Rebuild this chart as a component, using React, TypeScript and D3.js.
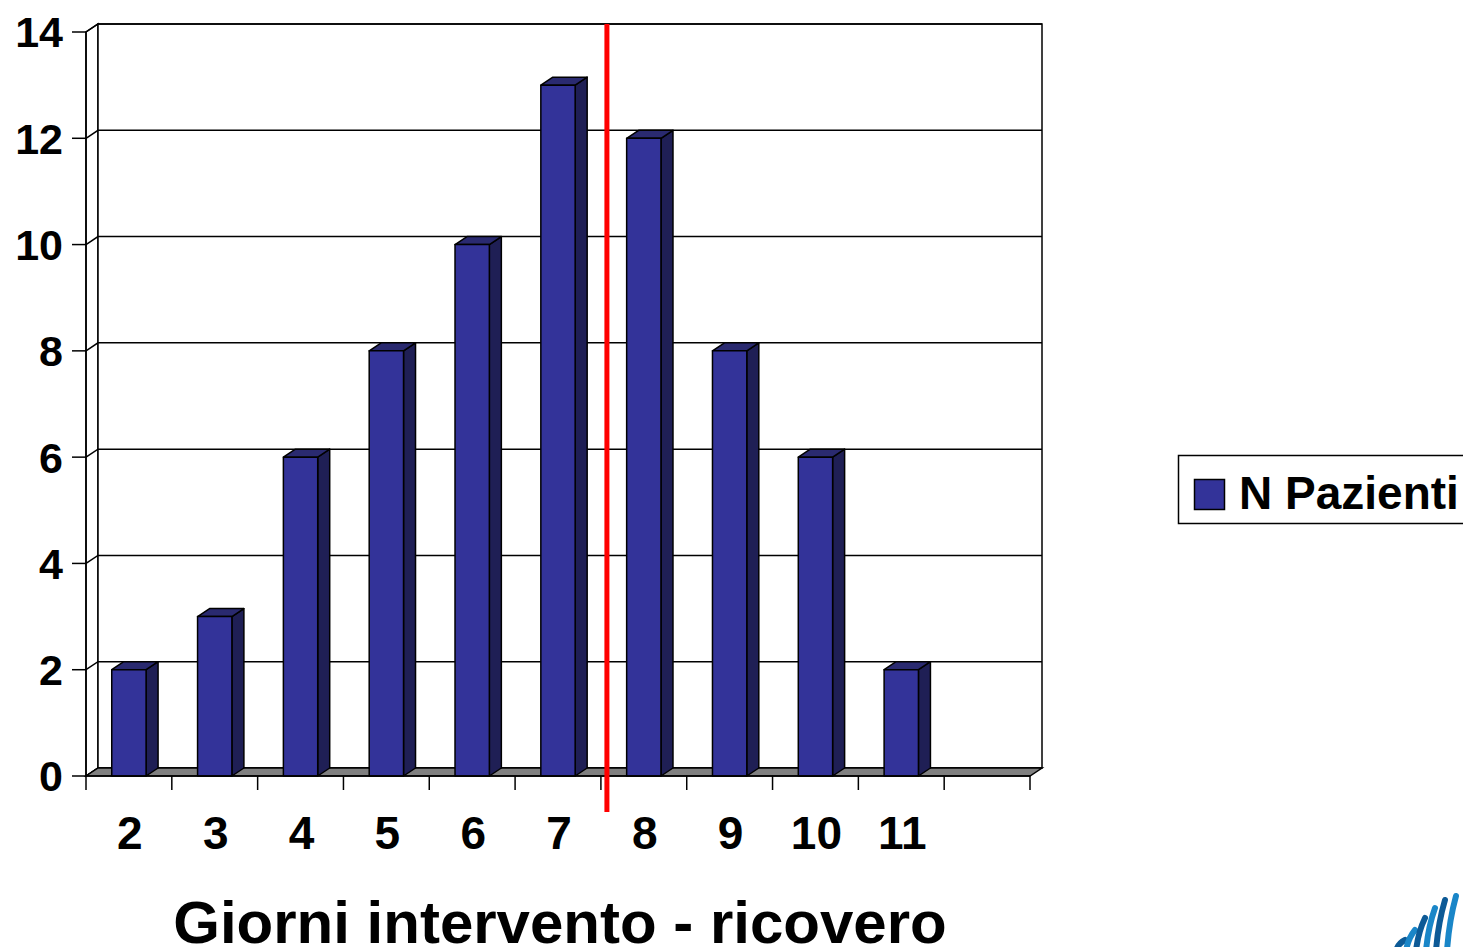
import React from "react";
import * as d3 from "d3";

// Days between surgery and admission, patient counts per day
const categories: string[] = ["2", "3", "4", "5", "6", "7", "8", "9", "10", "11", ""];
const patients: (number | null)[] = [2, 3, 6, 8, 10, 13, 12, 8, 6, 2, null];
const yTicks: number[] = [0, 2, 4, 6, 8, 10, 12, 14];
const seriesName = "N Pazienti";
const axisTitle = "Giorni intervento - ricovero";

const W = 1463;
const H = 947;
const FONT = "'Liberation Sans', Arial, sans-serif";

// 3D depth offset of the back wall
const DX = 12;
const DY = -8;

const FRONT = "#333399";
const SIDE = "#1f1f55";
const TOP = "#2a2a70";

export default function App() {
  const x = d3.scaleBand<string>().domain(categories.map((c, i) => `${i}`)).range([86, 1030]);
  const y = d3.scaleLinear().domain([0, 14]).range([776, 32]);
  const bw = x.bandwidth() * 0.4;
  const x0 = 86;
  const x1 = 1030;
  const y0 = y(0);
  const yTop = y(14);

  // vertical marker between day 7 and day 8
  const markerX = (x("5")! + x.bandwidth() + x("6")!) / 2 + 6;

  const stripes = [
    { x: 1402, top: 940, c: "#0d5a96" },
    { x: 1412, top: 930, c: "#1a86c8" },
    { x: 1422, top: 918, c: "#0d5a96" },
    { x: 1432, top: 908, c: "#1a86c8" },
    { x: 1442, top: 900, c: "#0d5a96" },
    { x: 1453, top: 896, c: "#1a86c8" },
  ];

  return (
    <svg
      width={W}
      height={H}
      style={{ position: "absolute", left: 0, top: 0, background: "#fff" }}
      fontFamily={FONT}
    >
      {/* left side wall */}
      <polygon
        points={`${x0},${y0} ${x0},${yTop} ${x0 + DX},${yTop + DY} ${x0 + DX},${y0 + DY}`}
        fill="#fff"
        stroke="#000"
        strokeWidth={1.5}
      />
      {/* back wall */}
      <rect
        x={x0 + DX}
        y={yTop + DY}
        width={x1 - x0}
        height={y0 - yTop}
        fill="#fff"
        stroke="#000"
        strokeWidth={1.5}
      />
      {/* grid lines */}
      {yTicks.map((t) => (
        <polyline
          key={`g${t}`}
          points={`${x0},${y(t)} ${x0 + DX},${y(t) + DY} ${x1 + DX},${y(t) + DY}`}
          fill="none"
          stroke="#000"
          strokeWidth={1.5}
        />
      ))}
      {/* floor */}
      <polygon
        points={`${x0},${y0} ${x1},${y0} ${x1 + DX},${y0 + DY} ${x0 + DX},${y0 + DY}`}
        fill="#808080"
        stroke="#000"
        strokeWidth={1.5}
      />
      {/* bars */}
      {patients.map((v, i) => {
        if (v == null) return null;
        const cx = x(`${i}`)! + x.bandwidth() / 2;
        const l = cx - bw / 2;
        const r = cx + bw / 2;
        const t = y(v);
        return (
          <g key={`b${i}`} stroke="#000" strokeWidth={1.5} strokeLinejoin="round">
            <polygon points={`${r},${y0} ${r},${t} ${r + DX},${t + DY} ${r + DX},${y0 + DY}`} fill={SIDE} />
            <polygon points={`${l},${t} ${r},${t} ${r + DX},${t + DY} ${l + DX},${t + DY}`} fill={TOP} />
            <rect x={l} y={t} width={bw} height={y0 - t} fill={FRONT} />
          </g>
        );
      })}
      {/* front axis lines */}
      <line x1={x0} y1={y0} x2={x0} y2={yTop} stroke="#000" strokeWidth={1.5} />
      <line x1={x0} y1={y0} x2={x1} y2={y0} stroke="#000" strokeWidth={1.5} />
      {/* y ticks and labels */}
      {yTicks.map((t) => (
        <g key={`yt${t}`}>
          <line x1={x0 - 14} x2={x0} y1={y(t)} y2={y(t)} stroke="#000" strokeWidth={1.5} />
          <text
            x={63}
            y={y(t)}
            dy="0.36em"
            textAnchor="end"
            fontSize={43}
            fontWeight="bold"
            fill="#000"
          >
            {t}
          </text>
        </g>
      ))}
      {/* category ticks */}
      {categories.map((c, i) => (
        <line
          key={`ct${i}`}
          x1={x(`${i}`)!}
          x2={x(`${i}`)!}
          y1={y0}
          y2={y0 + 14}
          stroke="#000"
          strokeWidth={1.5}
        />
      ))}
      <line x1={x1} x2={x1} y1={y0} y2={y0 + 14} stroke="#000" strokeWidth={1.5} />
      {/* category labels */}
      {categories.map((c, i) => (
        <text
          key={`cl${i}`}
          x={x(`${i}`)! + x.bandwidth() / 2 + 1}
          y={849}
          textAnchor="middle"
          fontSize={46}
          fontWeight="bold"
          fill="#000"
        >
          {c}
        </text>
      ))}
      {/* axis title */}
      <text x={560} y={943} textAnchor="middle" fontSize={60} fontWeight="bold" fill="#000">
        {axisTitle}
      </text>
      {/* marker line */}
      <line x1={markerX} x2={markerX} y1={24} y2={812} stroke="#ff0000" strokeWidth={5} />
      {/* legend */}
      <rect x={1178.5} y={455.5} width={300} height={68} fill="#fff" stroke="#000" strokeWidth={1.5} />
      <rect x={1194.5} y={479.5} width={30} height={30} fill={FRONT} stroke="#000" strokeWidth={1.5} />
      <text x={1239} y={509} fontSize={46} fontWeight="bold" fill="#000">
        {seriesName}
      </text>
      {/* logo fragment */}
      {stripes.map((s, i) => (
        <path
          key={`s${i}`}
          d={`M${s.x - 6},${H + 4} Q${s.x - 4},${(s.top + H) / 2} ${s.x + 3},${s.top}`}
          fill="none"
          stroke={s.c}
          strokeWidth={6}
          strokeLinecap="round"
        />
      ))}
    </svg>
  );
}
